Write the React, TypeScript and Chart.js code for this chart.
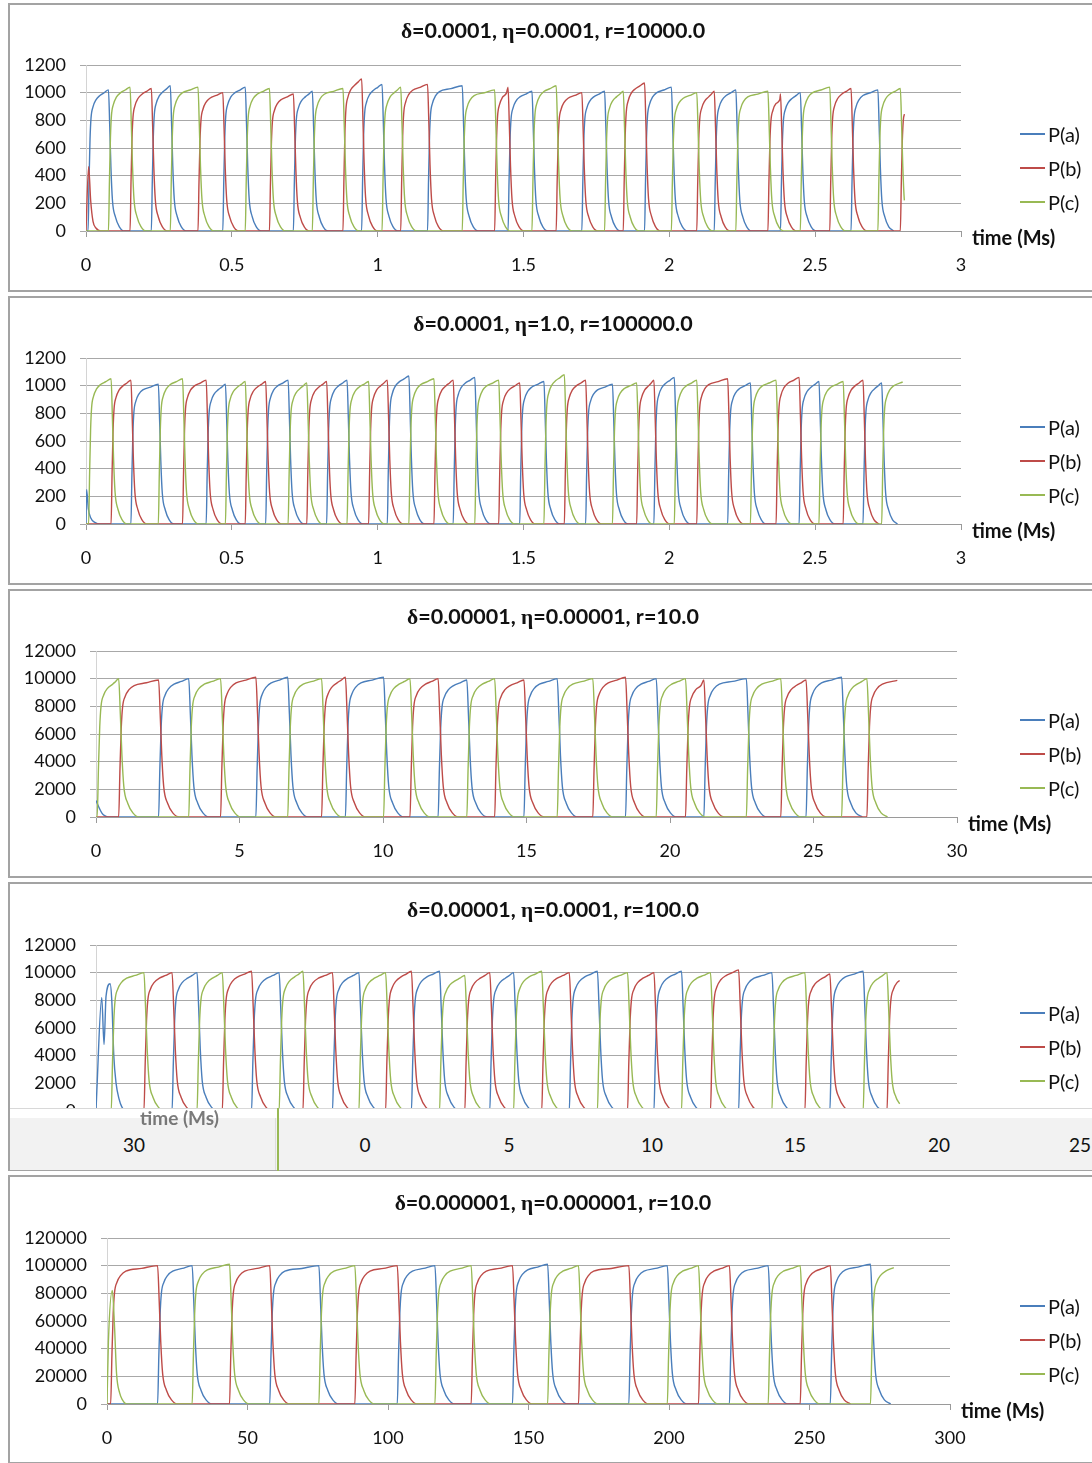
import React, { useEffect, useRef } from "react";
import { Chart, registerables } from "chart.js";
Chart.register(...registerables);

// ---------- series ----------
const SERIES_NAMES = ["P(a)", "P(b)", "P(c)"];
const SERIES_COLORS = ["#4a7ebb", "#be4b48", "#98b954"];
// dominance cycle a -> c -> b -> a (index of the series that takes over next)
const NEXT_OWNER = [2, 0, 1];

// ---------- axes ----------
const TITLES = [
  ["0.0001", "0.0001", "10000.0"],
  ["0.0001", "1.0", "100000.0"],
  ["0.00001", "0.00001", "10.0"],
  ["0.00001", "0.0001", "100.0"],
  ["0.000001", "0.000001", "10.0"],
];
const X_MAX = [3, 3, 30, 30, 300];
const X_STEP = [0.5, 0.5, 5, 5, 50];
const Y_MAX = [1200, 1200, 12000, 12000, 120000];
const Y_STEP = [200, 200, 2000, 2000, 20000];
const X_LABEL = "time (Ms)";

// ---------- panel 1: δ=0.0001, η=0.0001, r=10000 ----------
const P1_SWITCH = [0.007, 0.077, 0.151, 0.224, 0.289, 0.384, 0.469, 0.546, 0.629, 0.711, 0.776, 0.881, 0.945, 1.015, 1.079, 1.171, 1.29, 1.401, 1.447, 1.529, 1.612, 1.7, 1.778, 1.842, 1.915, 2.007, 2.094, 2.154, 2.228, 2.338, 2.381, 2.449, 2.55, 2.623, 2.715, 2.792];
const P1_PEAK = [1020, 1040, 1030, 1050, 1040, 1000, 1040, 1030, 990, 1010, 1030, 1100, 1060, 1040, 1060, 1050, 1020, 1040, 1010, 1050, 1000, 1010, 1010, 1070, 1040, 1000, 1010, 1020, 1010, 990, 1000, 1040, 1030, 1020, 1030, 1000];
const P1_FIRST = 0;
const P1_END = 2.806;
const P1_INIT_B = [[0, 0], [0.009, 465], [0.016, 220], [0.024, 70], [0.035, 20], [0.05, 0]];

// ---------- panel 2: δ=0.0001, η=1.0, r=100000 ----------
const P2_SWITCH = [0.009, 0.086, 0.154, 0.248, 0.331, 0.412, 0.478, 0.546, 0.616, 0.693, 0.757, 0.825, 0.895, 0.969, 1.033, 1.107, 1.193, 1.259, 1.333, 1.415, 1.487, 1.57, 1.64, 1.713, 1.805, 1.888, 1.947, 2.017, 2.094, 2.2, 2.278, 2.366, 2.445, 2.513, 2.596, 2.664, 2.728];
const P2_PEAK = [1050, 1040, 1010, 1050, 1040, 1010, 1030, 1030, 1040, 1020, 1030, 1040, 1030, 1040, 1070, 1050, 1040, 1060, 1040, 1020, 1030, 1080, 1040, 1010, 1020, 1040, 1060, 1040, 1050, 1020, 1040, 1060, 1030, 1030, 1040, 1020, 1040];
const P2_FIRST = 2;
const P2_END = 2.8;
const P2_INIT_A = [[0, 0], [0.002, 250], [0.008, 110], [0.016, 45], [0.03, 12], [0.05, 0]];

// ---------- panel 3: δ=0.00001, η=0.00001, r=10 ----------
const P3_SWITCH = [0.04, 0.79, 2.18, 3.23, 4.34, 5.57, 6.68, 7.86, 8.69, 10.02, 10.94, 11.92, 12.92, 13.89, 14.91, 16.07, 17.31, 18.45, 19.52, 20.54, 21.18, 22.66, 23.86, 24.74, 25.98, 26.86];
const P3_PEAK = [10000, 9900, 10000, 10000, 10100, 10100, 10000, 10100, 10100, 10000, 10000, 9900, 10000, 9900, 10000, 10000, 10100, 10000, 10000, 9900, 10000, 10000, 9900, 10100, 10000, 10000];
const P3_FIRST = 2;
const P3_END = 27.92;
const P3_INIT_A = [[0, 1200], [0.1, 700], [0.2, 300], [0.3, 100], [0.45, 0]];

// ---------- panel 4: δ=0.00001, η=0.0001, r=100 ----------
const P4_SWITCH = [0.53, 1.67, 2.65, 3.52, 4.4, 5.42, 6.38, 7.21, 8.24, 9.16, 10.09, 10.99, 11.97, 12.85, 13.72, 14.55, 15.53, 16.49, 17.47, 18.52, 19.44, 20.4, 21.41, 22.39, 23.55, 24.7, 25.57, 26.73, 27.56];
const P4_PEAK = [10000, 10000, 10000, 10000, 10100, 10000, 10100, 10000, 10000, 10000, 10100, 10100, 9800, 10000, 10000, 10100, 10000, 10100, 10000, 10000, 10100, 10000, 10200, 10000, 10000, 9900, 10100, 10000, 10000];
const P4_FIRST = 2;
const P4_END = 28.0;
const P4_INIT_A = [[0, 0], [0.03, 1500], [0.2, 8200], [0.28, 4800], [0.35, 8300], [0.49, 9200], [0.55, 8000], [0.62, 4000], [0.7, 2000], [0.8, 900], [0.9, 300], [1.05, 0]];

// ---------- panel 5: δ=0.000001, η=0.000001, r=10 ----------
const P5_SWITCH = [1.3, 18.0, 30.3, 43.6, 57.9, 75.4, 88.2, 103.3, 116.7, 129.6, 144.3, 156.8, 167.8, 185.7, 199.4, 210.5, 221.5, 235.3, 246.7, 257.4, 271.7];
const P5_PEAK = [100000, 100000, 101000, 100000, 100000, 100000, 100000, 100000, 100000, 100000, 101000, 100000, 100000, 100000, 100000, 100000, 100000, 100000, 100000, 101000, 100000];
const P5_FIRST = 1;
const P5_END = 280;
const P5_INIT_C = [[0, 0], [0.5, 45000], [1.9, 82000], [2.7, 55000], [3.4, 22000], [4.5, 8000], [5.5, 3000], [7, 0]];

// pulse outline (time in units of the panel's edge time, fraction of the pulse peak)
const RISE_SHAPE = [[1, 0.35], [2, 0.65], [3, 0.8], [5, 0.88], [8, 0.93], [12, 0.96]];
const FALL_SHAPE = [[1.3, 0.74], [2.5, 0.45], [4, 0.22], [7, 0.1], [11, 0.03], [16, 0]];
const EDGE_TIME = [0.0034, 0.0034, 0.045, 0.045, 0.45];

type Pt = { x: number; y: number };

const PANELS = [
  { sw: P1_SWITCH, pk: P1_PEAK, first: P1_FIRST, end: P1_END, init: [null, P1_INIT_B, null] },
  { sw: P2_SWITCH, pk: P2_PEAK, first: P2_FIRST, end: P2_END, init: [P2_INIT_A, null, null] },
  { sw: P3_SWITCH, pk: P3_PEAK, first: P3_FIRST, end: P3_END, init: [P3_INIT_A, null, null] },
  { sw: P4_SWITCH, pk: P4_PEAK, first: P4_FIRST, end: P4_END, init: [P4_INIT_A, null, null] },
  { sw: P5_SWITCH, pk: P5_PEAK, first: P5_FIRST, end: P5_END, init: [null, null, P5_INIT_C] },
];

function buildSeries(p: number, s: number): Pt[] {
  const P = PANELS[p];
  const tau = EDGE_TIME[p];
  const raw: Pt[] = [];
  const init = P.init[s] as number[][] | null;
  if (init) init.forEach(([x, y]) => raw.push({ x, y }));
  else raw.push({ x: 0, y: 0 });
  let owner = P.first;
  for (let i = 0; i < P.sw.length; i++) {
    if (owner === s) {
      const st = P.sw[i];
      const last = i === P.sw.length - 1;
      const en = last ? P.end : P.sw[i + 1];
      const L = P.pk[i];
      raw.push({ x: st, y: 0 });
      if (last) {
        for (const [dx, f] of RISE_SHAPE) raw.push({ x: st + dx * tau, y: f * L });
        raw.push({ x: Math.max(en, st + 13 * tau) + tau, y: 0.99 * L });
      } else {
        for (const [dx, f] of RISE_SHAPE) {
          if (st + dx * tau < en - 0.5 * tau) raw.push({ x: st + dx * tau, y: f * L });
        }
        if (en - st > 16 * tau) raw.push({ x: (st + 12 * tau + en) / 2, y: 0.98 * L });
        raw.push({ x: en, y: L });
        for (const [dx, f] of FALL_SHAPE) raw.push({ x: en + dx * tau, y: f * L });
      }
    }
    owner = NEXT_OWNER[owner];
  }
  raw.sort((a, b) => a.x - b.x);
  const out: Pt[] = [];
  for (let k = 0; k < raw.length; k++) {
    const q = raw[k];
    if (q.x <= P.end) out.push(q);
    else {
      const prev = out[out.length - 1];
      if (prev && prev.x < P.end) {
        const t = (P.end - prev.x) / (q.x - prev.x);
        out.push({ x: P.end, y: prev.y + t * (q.y - prev.y) });
      }
      break;
    }
  }
  return out;
}

// ---------- layout (page pixels) ----------
const PANEL_TOP = [3, 296, 589, 882, 1175];
const PLOT_LEFT = [86, 86, 96, 96, 107];
const PLOT_RIGHT = [961, 961, 957, 957, 950];
const PLOT_TOP_REL = [62, 62, 62, 63, 63];
const PLOT_H = 166;
const CANVAS_W = 1082;
const CANVAS_H = 285;
const FONT = "Lato, 'Open Sans', sans-serif";

function Title({ idx }: { idx: number }) {
  const [d, e, r] = TITLES[idx];
  const greek = { fontFamily: "'Liberation Serif', 'DejaVu Serif', serif", fontWeight: 700 };
  return (
    <div
      style={{
        position: "absolute", left: 243, width: 600, top: 13, textAlign: "center",
        fontFamily: FONT, fontWeight: 700, fontSize: 21.5, lineHeight: "24px", color: "#111",
      }}
    >
      <span style={greek}>δ</span>={d}, <span style={greek}>η</span>={e}, r={r}
    </div>
  );
}

function Panel({ idx }: { idx: number }) {
  const ref = useRef<HTMLCanvasElement | null>(null);
  const chartLeft = PLOT_LEFT[idx] - 10;
  const chartRight = PLOT_RIGHT[idx] - 10;
  const chartTop = PLOT_TOP_REL[idx] - 2;
  const chartBottom = chartTop + PLOT_H;

  useEffect(() => {
    if (!ref.current) return;
    const datasets = [0, 1, 2].map((s) => ({
      label: SERIES_NAMES[s],
      data: buildSeries(idx, s),
      borderColor: SERIES_COLORS[s],
      backgroundColor: SERIES_COLORS[s],
      borderWidth: 1.4,
      pointRadius: 0,
      cubicInterpolationMode: "monotone" as const,
      fill: false,
      order: 2 - s,
    }));
    const tickFont = { family: FONT, size: 18 };
    const chart = new Chart(ref.current, {
      type: "line",
      data: { datasets },
      options: {
        responsive: false,
        animation: false,
        devicePixelRatio: 1,
        parsing: false,
        normalized: true,
        layout: { padding: { left: 0, top: chartTop, right: CANVAS_W - chartRight, bottom: 0 } },
        plugins: { legend: { display: false }, title: { display: false }, tooltip: { enabled: false } },
        scales: {
          x: {
            type: "linear",
            min: 0,
            max: X_MAX[idx],
            ticks: {
              stepSize: X_STEP[idx], font: tickFont, color: "#111", padding: 17,
              maxRotation: 0, autoSkip: false, callback: (v: any) => String(v),
            },
            grid: { drawOnChartArea: false, drawTicks: true, tickLength: 6, color: "#9a9a9a" },
            border: { color: "#9a9a9a" },
            afterFit: (sc: any) => { sc.height = CANVAS_H - chartBottom; },
          },
          y: {
            min: 0,
            max: Y_MAX[idx],
            ticks: { stepSize: Y_STEP[idx], font: tickFont, color: "#111", padding: 14, callback: (v: any) => String(v) },
            grid: { color: "#a8a8a8", tickLength: 6, drawTicks: true },
            border: { color: "#d4d4d4" },
            afterFit: (sc: any) => { sc.width = chartLeft; },
          },
        },
      } as any,
    });
    return () => chart.destroy();
  }, [idx]);

  return (
    <div
      style={{
        position: "absolute", left: 8, top: PANEL_TOP[idx], width: 1100, height: 289,
        boxSizing: "border-box", border: "2px solid #a3a3a3", background: "#fff",
      }}
    >
      <canvas ref={ref} width={CANVAS_W} height={CANVAS_H} style={{ position: "absolute", left: 0, top: 0, width: CANVAS_W, height: CANVAS_H }} />
      <Title idx={idx} />
      {[0, 1, 2].map((s) => (
        <div key={s} style={{ position: "absolute", left: 1010, top: 129 + s * 34 - 12, height: 24, display: "flex", alignItems: "center" }}>
          <div style={{ width: 25, height: 2, background: SERIES_COLORS[s] }} />
          <span style={{ marginLeft: 3, fontFamily: FONT, fontSize: 20, color: "#111" }}>{SERIES_NAMES[s]}</span>
        </div>
      ))}
      <div
        style={{
          position: "absolute", left: chartRight + 11, top: chartBottom + 6 - 12, height: 24, lineHeight: "24px",
          fontFamily: FONT, fontWeight: 700, fontSize: 20, color: "#111", whiteSpace: "nowrap",
        }}
      >
        {X_LABEL}
      </div>
    </div>
  );
}

// shifted copy of an axis-label strip seen at the bottom of panel 4
const GLITCH_LABELS = ["30", "0", "5", "10", "15", "20", "25"];
const GLITCH_LABEL_X = [134, 365, 509, 652, 795, 939, 1080];

function Glitch() {
  return (
    <>
      <div style={{ position: "absolute", left: 10, top: 1108, width: 1082, height: 10, background: "#fff" }}>
        <div style={{ position: "absolute", left: 0, top: 0, width: 1082, height: 1, background: "#d8d8d8" }} />
      </div>
      <div style={{ position: "absolute", left: 10, top: 1118, width: 1082, height: 52, background: "#f2f2f2" }}>
        {GLITCH_LABELS.map((t, i) => (
          <div key={i} style={{ position: "absolute", left: GLITCH_LABEL_X[i] - 10 - 30, width: 60, top: 15, textAlign: "center", fontFamily: FONT, fontSize: 19, color: "#111", lineHeight: "24px" }}>
            {t}
          </div>
        ))}
        <div style={{ position: "absolute", left: 265, top: 0, width: 1, height: 52, background: "#dcdcdc" }} />
      </div>
      <div style={{ position: "absolute", left: 140, top: 1106, height: 24, lineHeight: "24px", fontFamily: FONT, fontWeight: 700, fontSize: 19, color: "#444", opacity: 0.7, whiteSpace: "nowrap" }}>
        {X_LABEL}
      </div>
      <div style={{ position: "absolute", left: 277, top: 1108, width: 2, height: 63, background: "#98b954" }} />
    </>
  );
}

export default function App() {
  return (
    <div style={{ position: "fixed", left: 0, top: 0, width: 1092, height: 1463, overflow: "hidden", background: "#fff" }}>
      {[0, 1, 2, 3, 4].map((i) => (
        <Panel key={i} idx={i} />
      ))}
      <Glitch />
    </div>
  );
}
